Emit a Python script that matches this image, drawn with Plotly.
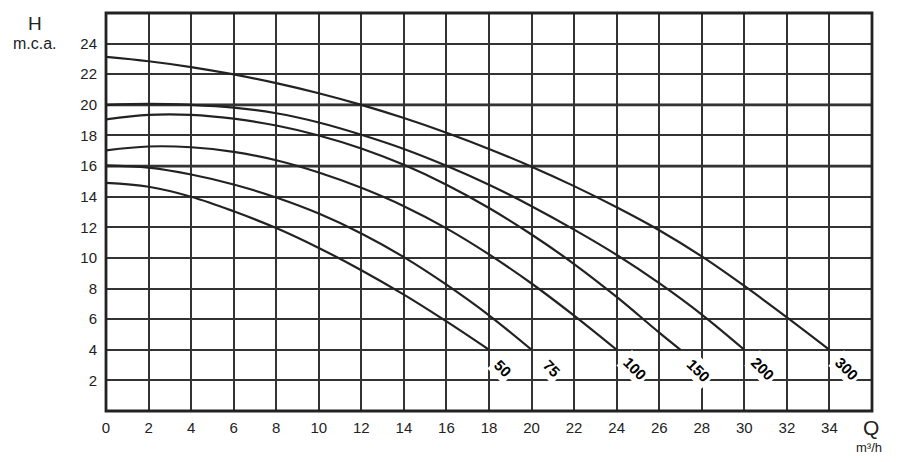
import plotly.graph_objects as go

# pump curves: flow Q (m3/h) vs head H (m.c.a.)
q_50 = [0, 2, 4, 6, 8, 10, 12, 14, 16, 18]
h_50 = [14.9, 14.65, 14.0, 13.05, 11.95, 10.65, 9.2, 7.6, 5.85, 4.0]

q_75 = [0, 2, 4, 6, 8, 10, 12, 14, 16, 18, 20]
h_75 = [16.05, 15.9, 15.45, 14.8, 13.95, 12.9, 11.6, 10.05, 8.25, 6.25, 4.0]

q_100 = [0, 2, 4, 6, 8, 10, 12, 14, 16, 18, 20, 22, 24]
h_100 = [17.03, 17.28, 17.23, 16.93, 16.38, 15.58, 14.58, 13.38, 11.93, 10.23, 8.33, 6.23, 4.0]

q_150 = [0, 2, 4, 6, 8, 10, 12, 14, 16, 18, 20, 22, 24, 26, 27]
h_150 = [19.05, 19.35, 19.35, 19.1, 18.65, 18.0, 17.15, 16.08, 14.78, 13.26, 11.53, 9.6, 7.45, 5.12, 4.0]

q_200 = [0, 2, 4, 6, 8, 10, 12, 14, 16, 18, 20, 22, 24, 26, 28, 30]
h_200 = [20.0, 20.07, 20.0, 19.82, 19.45, 18.85, 18.05, 17.12, 16.02, 14.78, 13.38, 11.85, 10.2, 8.35, 6.3, 4.0]

q_300 = [0, 2, 4, 6, 8, 10, 12, 14, 16, 18, 20, 22, 24, 26, 28, 30, 32, 34]
h_300 = [23.13, 22.85, 22.47, 21.99, 21.42, 20.76, 20.0, 19.14, 18.18, 17.12, 15.96, 14.69, 13.31, 11.81, 10.1, 8.17, 6.12, 4.0]

curve_names = ["50", "75", "100", "150", "200", "300"]
curve_q = [q_50, q_75, q_100, q_150, q_200, q_300]
curve_h = [h_50, h_75, h_100, h_150, h_200, h_300]
# where each curve's tag sits, just below its end point
label_x = [18.65, 20.95, 24.85, 27.85, 30.85, 34.8]
label_y = [2.75, 2.75, 2.75, 2.65, 2.75, 2.75]

x_ticks = list(range(0, 35, 2))
y_ticks = list(range(2, 25, 2))

INK = "#222222"
GRID = "#333333"
FONT = "Liberation Sans, Arial, sans-serif"

# the page body keeps its default 8px margin, so the figure is sized/offset
# to land the plot area on the reference's pixels (106..872 x 13..411)
BODY = 8
W, H = 900 - 2 * BODY, 462 - 2 * BODY
ML, MT = 106 - BODY, 13 - BODY
MR = W - ML - 766
MB = H - MT - 398

fig = go.Figure()
for name, q, h in zip(curve_names, curve_q, curve_h):
    fig.add_trace(go.Scatter(
        x=q, y=h, mode="lines", name=name,
        line=dict(color=INK, width=2.2, shape="spline", smoothing=1.0),
        showlegend=False, hoverinfo="skip",
    ))

annotations = [
    dict(x=x, y=y, xref="x", yref="y", text=f"<b>{n}</b>", showarrow=False,
         textangle=45, bgcolor="white", borderpad=2,
         font=dict(family=FONT, size=15, color="black"))
    for n, x, y in zip(curve_names, label_x, label_y)
]


def page_label(px, py, text, size):
    # position given in page pixels of the 900x462 window
    return dict(
        x=(px - BODY - ML) / (W - ML - MR), y=(H - MB - (py - BODY)) / (H - MT - MB),
        xref="paper", yref="paper", xanchor="center", yanchor="middle",
        text=text, showarrow=False, font=dict(family=FONT, size=size, color=INK),
    )


annotations += [
    page_label(35, 24, "H", 19),
    page_label(35, 44, "m.c.a.", 16),
    page_label(871, 428, "Q", 21),
    page_label(869, 447, "m³/h", 13),
]

shapes = [
    # heavier rules at 16 and 20 m
    dict(type="line", xref="paper", x0=0, x1=1, yref="y", y0=v, y1=v,
         line=dict(color=INK, width=2.6), layer="below")
    for v in (16, 20)
]
shapes.append(dict(type="rect", xref="paper", yref="paper", x0=0, x1=1, y0=0, y1=1,
                   line=dict(color=INK, width=2.8)))

fig.update_layout(
    width=W, height=H,
    margin=dict(l=ML, r=MR, t=MT, b=MB),
    paper_bgcolor="white", plot_bgcolor="white",
    font=dict(family=FONT, size=15, color=INK),
    xaxis=dict(range=[0, 36], tickvals=x_ticks, showgrid=True, gridcolor=GRID, gridwidth=1.5,
               zeroline=False, showline=False, ticks="", ticklabelstandoff=6),
    yaxis=dict(range=[0, 26], tickvals=y_ticks, showgrid=True, gridcolor=GRID, gridwidth=1.5,
               zeroline=False, showline=False, ticks="", ticklabelstandoff=8),
    shapes=shapes,
    annotations=annotations,
)

fig.write_html("out.html", config={"displayModeBar": False})
